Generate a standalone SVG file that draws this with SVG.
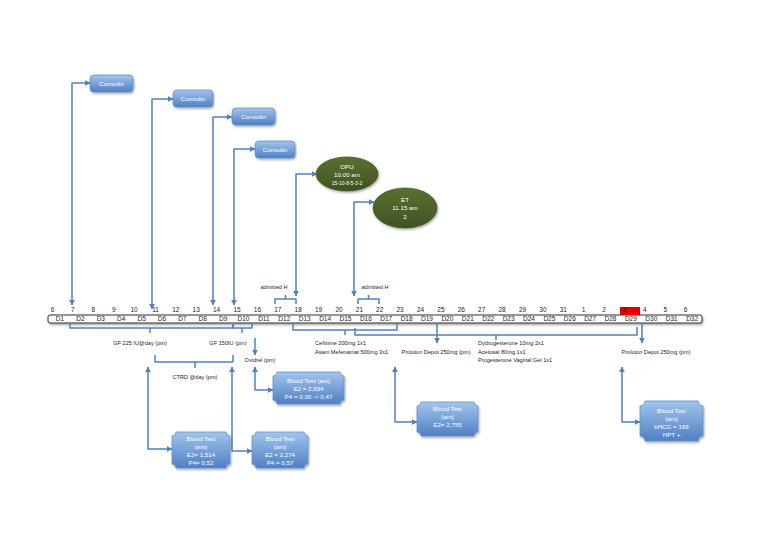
<svg xmlns="http://www.w3.org/2000/svg" width="768" height="543" viewBox="0 0 768 543">
<style>
text{font-family:"Liberation Sans","DejaVu Sans",sans-serif}
.num{font-size:6.5px;fill:#222;text-anchor:middle}
.dl{font-size:6.5px;fill:#222;text-anchor:middle}
.lbl{font-size:5.6px;fill:#222}
.wt{font-size:6.2px;fill:#fff;text-anchor:middle}
.con{fill:none;stroke:#4F81BD;stroke-width:1.5;stroke-linejoin:round}
.brace{fill:none;stroke:#4F81BD;stroke-width:1.5;stroke-linejoin:round}
.box{fill:url(#gb);stroke:#5A8AC6;stroke-width:0.7}
.ell{fill:url(#gg);stroke:#3F5220;stroke-width:0.7}
</style>
<defs>
<linearGradient id="gb" x1="0" y1="0" x2="0" y2="1">
<stop offset="0" stop-color="#A3C4EC"/><stop offset="1" stop-color="#4E80C4"/>
</linearGradient>
<linearGradient id="gg" x1="0" y1="0" x2="0" y2="1">
<stop offset="0" stop-color="#5B7030"/><stop offset="1" stop-color="#3F5322"/>
</linearGradient>
<marker id="arr" viewBox="0 0 10 10" refX="9" refY="5" markerWidth="6" markerHeight="6" markerUnits="userSpaceOnUse" orient="auto-start-reverse">
<path d="M0,0 L10,5 L0,10 z" fill="#4F81BD"/>
</marker>
<filter id="sh" x="-5%" y="-20%" width="110%" height="160%">
<feDropShadow dx="1" dy="1.5" stdDeviation="1" flood-color="#000" flood-opacity="0.35"/>
</filter>
</defs>
<rect width="768" height="543" fill="#fff"/>

<g id="timeline">
<rect x="48" y="315" width="654" height="8" rx="2" fill="#fff" stroke="#333" stroke-width="1" filter="url(#sh)"/>
<rect x="620" y="307" width="20" height="8" fill="#E00000"/>
<text class="num" x="52.5" y="312">6</text>
<text class="num" x="72.9" y="312">7</text>
<text class="num" x="93.3" y="312">8</text>
<text class="num" x="113.7" y="312">9</text>
<text class="num" x="134.1" y="312">10</text>
<text class="num" x="155.5" y="312">11</text>
<text class="num" x="175.8" y="312">12</text>
<text class="num" x="196.2" y="312">13</text>
<text class="num" x="216.6" y="312">14</text>
<text class="num" x="237.0" y="312">15</text>
<text class="num" x="257.4" y="312">16</text>
<text class="num" x="277.8" y="312">17</text>
<text class="num" x="298.2" y="312">18</text>
<text class="num" x="318.6" y="312">19</text>
<text class="num" x="339.0" y="312">20</text>
<text class="num" x="359.4" y="312">21</text>
<text class="num" x="379.7" y="312">22</text>
<text class="num" x="400.1" y="312">23</text>
<text class="num" x="420.5" y="312">24</text>
<text class="num" x="440.9" y="312">25</text>
<text class="num" x="461.3" y="312">26</text>
<text class="num" x="481.7" y="312">27</text>
<text class="num" x="502.1" y="312">28</text>
<text class="num" x="522.5" y="312">29</text>
<text class="num" x="542.9" y="312">30</text>
<text class="num" x="563.3" y="312">31</text>
<text class="num" x="583.6" y="312">1</text>
<text class="num" x="604.0" y="312">2</text>
<text class="num" x="624.4" y="312" fill="#900">3</text>
<text class="num" x="644.8" y="312">4</text>
<text class="num" x="665.2" y="312">5</text>
<text class="num" x="685.6" y="312">6</text>
<text class="dl" x="60.0" y="321.3">D1</text>
<text class="dl" x="80.4" y="321.3">D2</text>
<text class="dl" x="100.8" y="321.3">D3</text>
<text class="dl" x="121.2" y="321.3">D4</text>
<text class="dl" x="141.6" y="321.3">D5</text>
<text class="dl" x="162.0" y="321.3">D6</text>
<text class="dl" x="182.3" y="321.3">D7</text>
<text class="dl" x="202.7" y="321.3">D8</text>
<text class="dl" x="223.1" y="321.3">D9</text>
<text class="dl" x="243.5" y="321.3">D10</text>
<text class="dl" x="263.9" y="321.3">D11</text>
<text class="dl" x="284.3" y="321.3">D12</text>
<text class="dl" x="304.7" y="321.3">D13</text>
<text class="dl" x="325.1" y="321.3">D14</text>
<text class="dl" x="345.5" y="321.3">D15</text>
<text class="dl" x="365.9" y="321.3">D16</text>
<text class="dl" x="386.2" y="321.3">D17</text>
<text class="dl" x="406.6" y="321.3">D18</text>
<text class="dl" x="427.0" y="321.3">D19</text>
<text class="dl" x="447.4" y="321.3">D20</text>
<text class="dl" x="467.8" y="321.3">D21</text>
<text class="dl" x="488.2" y="321.3">D22</text>
<text class="dl" x="508.6" y="321.3">D23</text>
<text class="dl" x="529.0" y="321.3">D24</text>
<text class="dl" x="549.4" y="321.3">D25</text>
<text class="dl" x="569.8" y="321.3">D26</text>
<text class="dl" x="590.1" y="321.3">D27</text>
<text class="dl" x="610.5" y="321.3">D28</text>
<text class="dl" x="630.9" y="321.3">D29</text>
<text class="dl" x="651.3" y="321.3">D30</text>
<text class="dl" x="671.7" y="321.3">D31</text>
<text class="dl" x="692.1" y="321.3">D32</text>
</g>

<g id="connectors">
<path class="con" d="M90,83 H72 V305" marker-start="url(#arr)" marker-end="url(#arr)"/>
<path class="con" d="M173,99 H152 V309" marker-start="url(#arr)" marker-end="url(#arr)"/>
<path class="con" d="M232,117 H213 V305" marker-start="url(#arr)" marker-end="url(#arr)"/>
<path class="con" d="M255,149 H234 V305" marker-start="url(#arr)" marker-end="url(#arr)"/>
<path class="con" d="M317,174 H296 V296" marker-start="url(#arr)" marker-end="url(#arr)"/>
<path class="con" d="M374,202 H354 V296" marker-start="url(#arr)" marker-end="url(#arr)"/>
<path class="con" d="M255,338 V355" marker-end="url(#arr)"/>
<path class="con" d="M437,323 V343" marker-end="url(#arr)"/>
<path class="con" d="M642,323 V343" marker-end="url(#arr)"/>
<path class="con" d="M273,390 H255 V367" marker-start="url(#arr)" marker-end="url(#arr)"/>
<path class="con" d="M172,449 H148 V367" marker-start="url(#arr)" marker-end="url(#arr)"/>
<path class="con" d="M252,451 H232 V367" marker-start="url(#arr)" marker-end="url(#arr)"/>
<path class="con" d="M417,422 H395 V367" marker-start="url(#arr)" marker-end="url(#arr)"/>
<path class="con" d="M640,422 H622 V367" marker-start="url(#arr)" marker-end="url(#arr)"/>
<path class="brace" d="M275,304 V299 H296 V304 M285.5,299 V295"/>
<path class="brace" d="M358,304 V299 H379 V304 M368.5,299 V295"/>
<path class="brace" d="M70,323 V328 H233 V323 M150,328 V333"/>
<path class="brace" d="M233,323 V328 H252 V323 M242,328 V333"/>
<path class="brace" d="M155,355 V362 H233 V355 M195,362 V368"/>
<path class="brace" d="M293,323 V330 H397 V323 M345,330 V335"/>
<path class="brace" d="M355,328 V335 H637 V327 M496,335 V340"/>
</g>

<g id="labels">
<text class="lbl" x="274" y="289" text-anchor="middle">admitted H</text>
<text class="lbl" x="375" y="289" text-anchor="middle">admitted H</text>
<text class="lbl" x="140" y="345" text-anchor="middle">GF 225 IU@day (pm)</text>
<text class="lbl" x="228" y="345" text-anchor="middle">GF 150IU (pm)</text>
<text class="lbl" x="260" y="362" text-anchor="middle">Ovidrel (pm)</text>
<text class="lbl" x="195" y="379" text-anchor="middle">CTRD @day (pm)</text>
<text class="lbl" x="315" y="345">Cefixime 200mg 1x1</text>
<text class="lbl" x="315" y="354">Asam Mefenamat 500mg 3x1</text>
<text class="lbl" x="436" y="354" text-anchor="middle">Proluton Depot 250mg (pm)</text>
<text class="lbl" x="478" y="345">Dydrogesterone 10mg 2x1</text>
<text class="lbl" x="478" y="354">Acetosal 80mg 1x1</text>
<text class="lbl" x="478" y="362">Progesterone Vaginal Gel 1x1</text>
<text class="lbl" x="656" y="354" text-anchor="middle">Proluton Depot 250mg (pm)</text>
</g>

<g id="consult1"><rect class="box" x="90" y="75" width="43" height="17" rx="4" filter="url(#sh)"/><text class="wt" x="111.5" y="85.5">Consultn</text></g>
<g id="consult2"><rect class="box" x="173" y="90" width="40" height="17" rx="4" filter="url(#sh)"/><text class="wt" x="193" y="100.5">Consultn</text></g>
<g id="consult3"><rect class="box" x="232" y="108" width="43" height="17" rx="4" filter="url(#sh)"/><text class="wt" x="253.5" y="118.5">Consultn</text></g>
<g id="consult4"><rect class="box" x="255" y="141" width="40" height="17" rx="4" filter="url(#sh)"/><text class="wt" x="275" y="151.5">Consultn</text></g>

<g id="opu"><ellipse class="ell" cx="347" cy="174" rx="31" ry="17" filter="url(#sh)"/>
<text class="wt" x="347" y="169">OPU</text><text class="wt" x="347" y="177">10.00 am</text><text class="wt" x="347" y="184.5" style="font-size:5px">15-10-8-5-3-2</text></g>
<g id="et"><ellipse class="ell" cx="405" cy="208" rx="32" ry="20" filter="url(#sh)"/>
<text class="wt" x="405" y="202">ET</text><text class="wt" x="405" y="210">11.15 am</text><text class="wt" x="405" y="219">2</text></g>

<g id="bt1"><path class="box" filter="url(#sh)" d="M277,372 H340 A4,4 0 0 0 344,376 V400 A4,4 0 0 0 340,404 H277 A4,4 0 0 0 273,400 V376 A4,4 0 0 0 277,372 Z"/>
<text class="wt" x="308.5" y="383">Blood Test (am)</text><text class="wt" x="308.5" y="391">E2 = 2,694</text><text class="wt" x="308.5" y="399">P4 = 0.30 -&gt; 0,47</text></g>
<g id="bt2"><path class="box" filter="url(#sh)" d="M176,432 H226 A4,4 0 0 0 230,436 V464 A4,4 0 0 0 226,468 H176 A4,4 0 0 0 172,464 V436 A4,4 0 0 0 176,432 Z"/>
<text class="wt" x="201" y="441">Blood Test</text><text class="wt" x="201" y="449">(am)</text><text class="wt" x="201" y="457">E2= 1,514</text><text class="wt" x="201" y="465">P4= 0,52</text></g>
<g id="bt3"><path class="box" filter="url(#sh)" d="M256,432 H304 A4,4 0 0 0 308,436 V464 A4,4 0 0 0 304,468 H256 A4,4 0 0 0 252,464 V436 A4,4 0 0 0 256,432 Z"/>
<text class="wt" x="280" y="441">Blood Test</text><text class="wt" x="280" y="449">(am)</text><text class="wt" x="280" y="457">E2 = 2,274</text><text class="wt" x="280" y="465">P4 = 0,57</text></g>
<g id="bt4"><path class="box" filter="url(#sh)" d="M421,402 H474 A4,4 0 0 0 478,406 V432 A4,4 0 0 0 474,436 H421 A4,4 0 0 0 417,432 V406 A4,4 0 0 0 421,402 Z"/>
<text class="wt" x="447.5" y="411">Blood Test</text><text class="wt" x="447.5" y="419">(am)</text><text class="wt" x="447.5" y="427">E2= 2,755</text></g>
<g id="bt5"><path class="box" filter="url(#sh)" d="M645,401 H698 A5,5 0 0 0 703,406 V436 A5,5 0 0 0 698,441 H645 A5,5 0 0 0 640,436 V406 A5,5 0 0 0 645,401 Z"/>
<text class="wt" x="671.5" y="413">Blood Test</text><text class="wt" x="671.5" y="421">(am)</text><text class="wt" x="671.5" y="429">bHCG = 169</text><text class="wt" x="671.5" y="437">HPT +</text></g>
</svg>
